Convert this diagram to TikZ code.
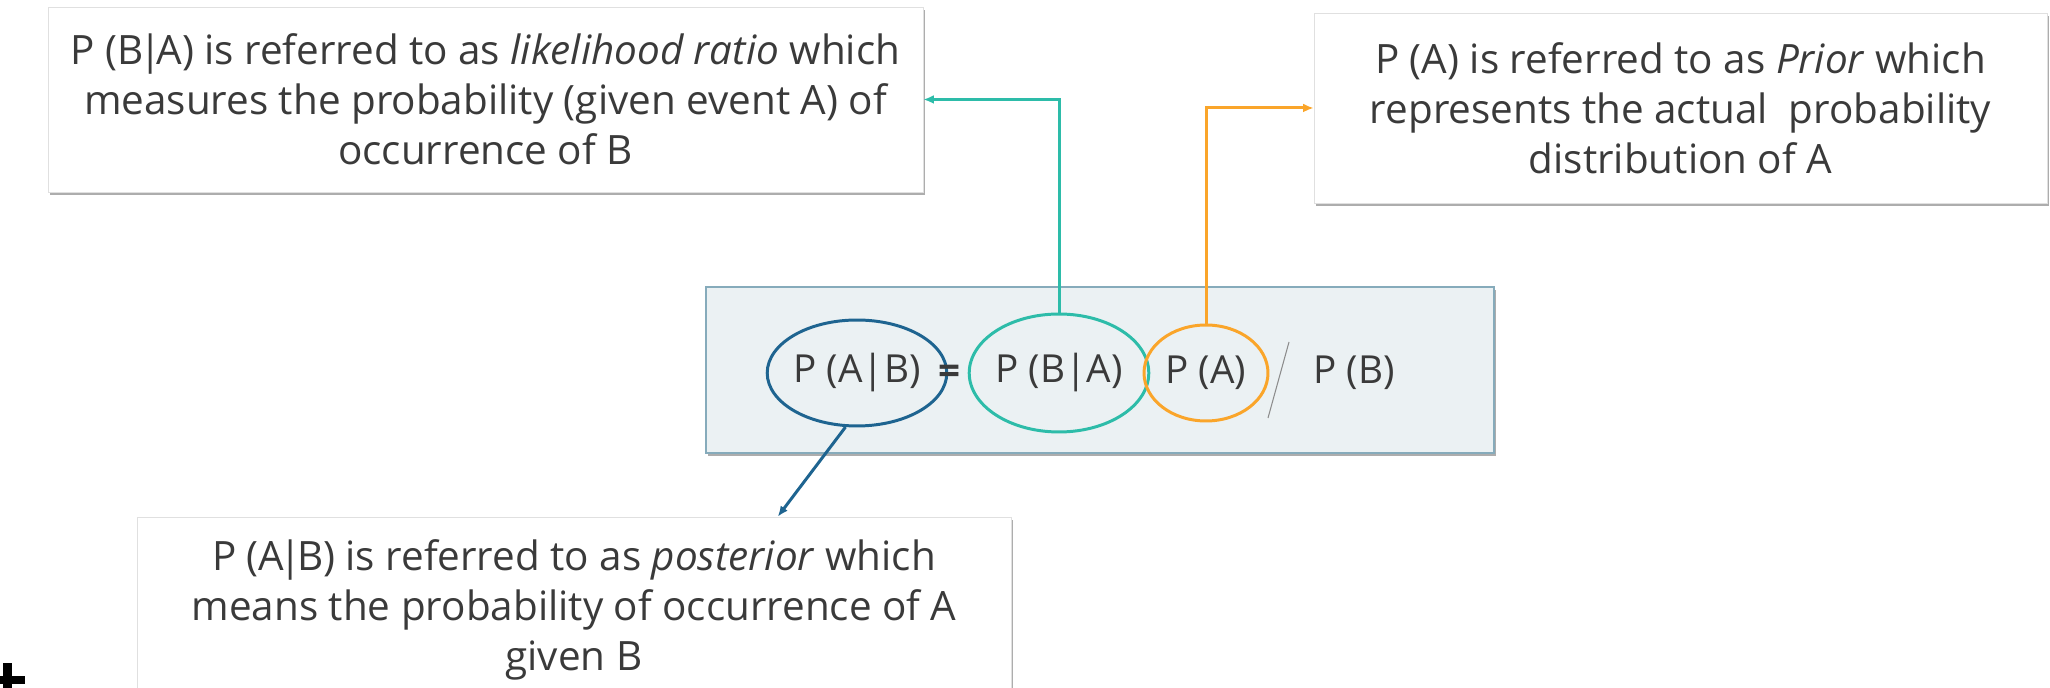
\documentclass[tikz,border=0pt]{standalone}
\usepackage{fontspec}
\setmainfont{Open Sans}
\usepackage{tikz}
\usetikzlibrary{arrows.meta}
\usetikzlibrary{calc}
\usetikzlibrary{positioning}
\usetikzlibrary{shapes.geometric}
\usetikzlibrary{shadows}

\definecolor{inktext}{HTML}{3A3A3A}
\definecolor{ringblue}{HTML}{1E6490}
\definecolor{ringteal}{HTML}{2DBCA9}
\definecolor{ringorange}{HTML}{FAA52A}
\definecolor{eqfill}{HTML}{EBF1F3}
\definecolor{eqline}{HTML}{86ABBB}

\newcommand{\given}{\kern-0.12em|\kern-0.12em}

\begin{document}
\begin{tikzpicture}
	[
	x=0.02cm, y=-0.02cm,
	> = {Latex[length=6pt,width=5pt]},
	every node/.style={text=inktext},
	infobox/.style = {draw=black!12, fill=white, rectangle, inner sep=0pt, align=center,
		font=\fontsize{23}{28.5}\selectfont,
		drop shadow={shadow xshift=1.2pt, shadow yshift=-1.6pt, fill=black!40, opacity=0.8}},
	eqframe/.style = {draw=eqline, fill=eqfill, line width=1.2pt, rectangle, inner sep=0pt,
		drop shadow={shadow xshift=1.2pt, shadow yshift=-1.6pt, fill=black!40, opacity=0.8}},
	termring/.style = {ellipse, draw, line width=1.7pt, inner sep=0pt, font=\fontsize{22}{26}\selectfont},
	eqterm/.style = {font=\fontsize{22}{26}\selectfont, inner sep=0pt},
	link/.style = {->, line width=1.7pt}
	]
	\useasboundingbox (0,0) rectangle (2050,688);

	\node[infobox, minimum width=17.5cm, minimum height=3.7cm] (likebox) at (485.5,99.5)
		{P (B\given A) is referred to as \textit{likelihood ratio} which\\
		 measures the probability (given event A) of\\
		 occurrence of B};
	\node[infobox, minimum width=14.66cm, minimum height=3.8cm] (priorbox) at (1680.5,108)
		{P (A) is referred to as \textit{Prior} which\\
		 represents the actual\ \ probability\\
		 distribution of A};
	\node[eqframe, minimum width=15.76cm, minimum height=3.32cm] (eqbox) at (1100,370) {};
	\node[infobox, minimum width=17.48cm, minimum height=3.7cm] (postbox) at (574,609.5)
		{P (A\given B) is referred to as \textit{posterior} which\\
		 means the probability of occurrence of A\\
		 given B};

	\node[termring, draw=ringblue, minimum width=3.2cm, minimum height=2.12cm] (postell) at (857,373) {P (A|B)};
	\node[eqterm] (equals) at (950,375) {\textbf{=}};
	\node[termring, draw=ringteal, minimum width=3.12cm, minimum height=2.36cm] (likeell) at (1059,373) {P (B|A)};
	\node[termring, draw=ringorange, minimum width=2.48cm, minimum height=1.92cm] (priorell) at (1206,373) {P (A)\hspace{0.45cm}};
	\node[eqterm] (evidence) at (1354,373) {P (B)};
	\draw[black!45, line width=0.6pt] (1289,342) -- (1268,418);

	\draw[link, ringteal] (likeell.north) |- (likebox.east);
	\draw[link, ringorange] (priorell.north) |- (priorbox.west);
	\coordinate (posttip) at ($(postbox.north west)!0.733!(postbox.north east)$);
	\draw[link, ringblue] (postell.-102) -- (posttip);

	\fill[black] (3,663) rectangle (12,688);
	\fill[black] (0,676) rectangle (25,684);
\end{tikzpicture}
\end{document}
